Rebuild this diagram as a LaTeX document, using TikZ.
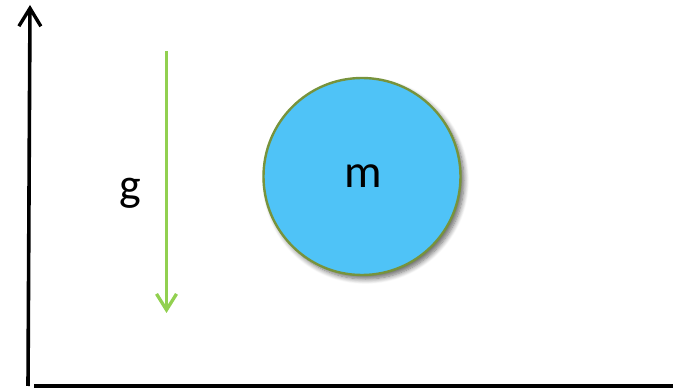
\documentclass[tikz,border=0pt]{standalone}
\usepackage{fontspec}
\setmainfont{Carlito}
\usetikzlibrary{arrows.meta,shadows.blur}
\definecolor{ballblue}{HTML}{4FC3F7}
\definecolor{ballrim}{HTML}{77933C}
\definecolor{gravgreen}{HTML}{92D050}
\begin{document}
\begin{tikzpicture}[x=1pt,y=-1pt,
  axisline/.style={line width=3.6pt,black},
  gline/.style={line width=3.3pt,gravgreen},
  ball/.style={circle,fill=ballblue,draw=ballrim,line width=2.4pt,minimum size=197pt,inner sep=0pt,
    blur shadow={shadow xshift=3.5pt,shadow yshift=-4pt,shadow blur steps=8,shadow blur radius=5pt,shadow opacity=60},
    font=\fontsize{47}{47}\selectfont},
  lbl/.style={font=\fontsize{46}{46}\selectfont,inner sep=0pt}]
\useasboundingbox (0,0) rectangle (673,390);
\coordinate (ybot) at (28,386);
\coordinate (ytop) at (30,5);
\coordinate (xl) at (34,386);
\coordinate (xr) at (673,386);
\draw[axisline,-{Straight Barb[length=18pt,width=22pt,line width=3.4pt]}] (ybot) -- (ytop);
\draw[axisline] (xl) -- (xr);
\coordinate (gtop) at (166.5,51);
\coordinate (gbot) at (166.5,313);
\draw[gline,-{Straight Barb[length=16pt,width=20pt,line width=3.3pt]}] (gtop) -- (gbot);
\node[lbl] (g) at (130,193.4) {g};
\node[ball] (m) at (362,176.5) {\hspace*{3pt}m};
\end{tikzpicture}
\end{document}
